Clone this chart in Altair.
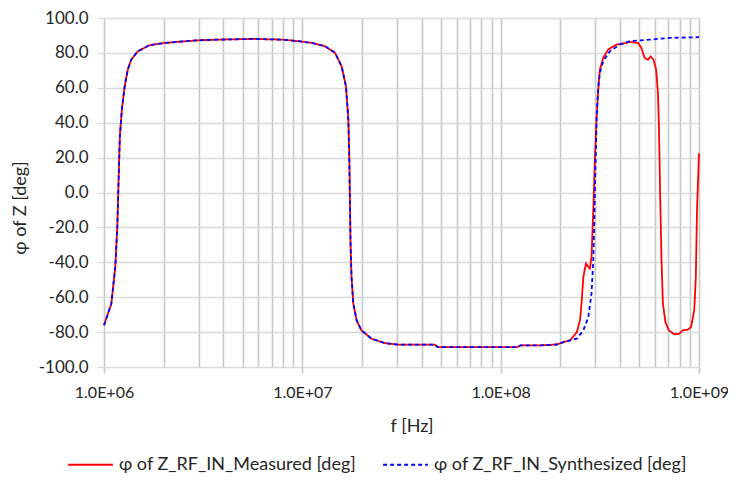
import altair as alt
import pandas as pd

# Measured phase (frequency in Hz, phase in degrees)
meas_f = [1.000e6, 1.089e6, 1.140e6, 1.167e6, 1.186e6, 1.202e6, 1.230e6, 1.271e6, 1.318e6,
          1.371e6, 1.479e6, 1.694e6, 2.014e6, 2.951e6, 3.715e6, 5.62e6, 7.94e6, 9.57e6,
          1.117e7, 1.303e7, 1.462e7, 1.578e7, 1.660e7, 1.706e7, 1.726e7, 1.738e7, 1.750e7,
          1.770e7, 1.807e7, 1.879e7, 1.986e7, 2.234e7, 2.606e7, 3.034e7, 4.634e7, 4.819e7,
          1.211e8, 1.259e8, 1.585e8, 1.919e8, 2.075e8, 2.239e8,
          2.421e8, 2.512e8, 2.564e8, 2.612e8, 2.692e8, 2.767e8, 2.818e8, 2.871e8, 2.931e8,
          2.985e8, 3.048e8, 3.105e8, 3.162e8, 3.289e8, 3.483e8, 3.837e8, 4.305e8, 4.477e8,
          4.932e8, 5.117e8, 5.321e8, 5.534e8, 5.702e8, 5.902e8, 6.081e8, 6.209e8, 6.281e8,
          6.368e8, 6.471e8, 6.577e8, 6.776e8, 7.047e8, 7.516e8, 7.962e8, 8.279e8, 8.770e8,
          9.120e8, 9.462e8, 9.638e8, 9.772e8, 1.000e9]
meas_phi = [-76.1, -63.7, -42.6, -19.6, 9.1, 32.0, 47.4, 60.8, 70.4,
            76.1, 80.9, 84.4, 85.7, 87.2, 87.6, 88.0, 87.6, 86.7,
            85.7, 83.8, 80.0, 72.3, 60.8, 41.7, 18.7, -6.2, -29.2,
            -48.4, -63.7, -73.3, -79.0, -83.8, -86.3, -87.2, -87.2, -88.6,
            -88.6, -87.6, -87.6, -87.1, -85.7, -84.8,
            -80.0, -73.3, -61.8, -48.4, -40.7, -42.6, -43.6, -36.9, -10.0,
            18.7, 43.6, 58.9, 70.4, 77.1, 81.9, 84.8, 85.7, 86.3,
            85.7, 82.9, 77.1, 76.1, 78.0, 76.1, 70.4, 57.0, 37.8,
            -0.5, -38.8, -63.7, -74.3, -79.0, -81.3, -80.9, -79.0, -78.6,
            -77.1, -67.5, -48.4, -10.0, 22.5]

# Synthesized phase
syn_f = [1.000e6, 1.089e6, 1.140e6, 1.167e6, 1.186e6, 1.202e6, 1.230e6, 1.271e6, 1.318e6,
         1.371e6, 1.479e6, 1.694e6, 2.014e6, 2.951e6, 3.715e6, 5.62e6, 7.94e6, 9.57e6,
         1.117e7, 1.303e7, 1.462e7, 1.578e7, 1.660e7, 1.706e7, 1.726e7, 1.738e7, 1.750e7,
         1.770e7, 1.807e7, 1.879e7, 1.986e7, 2.234e7, 2.606e7, 3.034e7, 4.634e7, 4.819e7,
         1.211e8, 1.259e8, 1.585e8, 1.919e8, 2.075e8, 2.239e8,
         2.421e8, 2.612e8, 2.767e8, 2.871e8, 2.931e8, 2.985e8, 3.048e8, 3.105e8, 3.162e8,
         3.289e8, 3.548e8, 3.981e8, 4.477e8, 5.636e8, 7.096e8, 1.000e9]
syn_phi = [-76.1, -63.7, -42.6, -19.6, 9.1, 32.0, 47.4, 60.8, 70.4,
           76.1, 80.9, 84.4, 85.7, 87.2, 87.6, 88.0, 87.6, 86.7,
           85.7, 83.8, 80.0, 72.3, 60.8, 41.7, 18.7, -6.2, -29.2,
           -48.4, -63.7, -73.3, -79.0, -83.8, -86.3, -87.2, -87.2, -88.6,
           -88.6, -87.6, -87.6, -87.1, -85.7, -84.8,
           -83.8, -79.0, -71.4, -57.9, -38.8, -0.5, 43.6, 60.8, 68.5,
           75.2, 80.9, 84.8, 86.7, 87.6, 88.6, 89.0]

series_names = ["φ of Z_RF_IN_Measured [deg]", "φ of Z_RF_IN_Synthesized [deg]"]
series_colors = ["#ff0000", "#0000ff"]

y_ticks = [-100, -80, -60, -40, -20, 0, 20, 40, 60, 80, 100]
x_ticks = [m * 10 ** e for e in (6, 7, 8) for m in range(1, 10)] + [1000000000]

df = pd.concat([
    pd.DataFrame({"f": meas_f, "phi": meas_phi, "series": series_names[0], "idx": range(len(meas_f))}),
    pd.DataFrame({"f": syn_f, "phi": syn_phi, "series": series_names[1], "idx": range(len(syn_f))}),
])

font = "Lato"
txt = "#262626"
W, H = 595, 349
major_test = "indexof([1000000,10000000,100000000,1000000000], datum.value) >= 0"
x_label_expr = ("datum.value == 1000000 ? '1.0E+06' : datum.value == 10000000 ? '1.0E+07' : "
                "datum.value == 100000000 ? '1.0E+08' : datum.value == 1000000000 ? '1.0E+09' : ''")
y_label_expr = "(datum.value < 0 ? '-' : '') + format(abs(datum.value), '.1f')"

legend = alt.Legend(title=None, orient="none", legendX=-37, legendY=423, direction="horizontal",
                    labelFontSize=18, labelFont=font, labelColor=txt, labelOffset=5,
                    symbolType="stroke", symbolStrokeWidth=1.8, symbolSize=2000,
                    columnPadding=22, labelLimit=400)

chart = alt.Chart(df).mark_line(strokeWidth=1.8).encode(
    x=alt.X("f:Q", scale=alt.Scale(type="log", domain=[1e6, 1e9], nice=False),
            axis=alt.Axis(title="f [Hz]", values=x_ticks, labelExpr=x_label_expr,
                          labelOverlap=False, labelFlush=False, labelFontSize=16, titleFontSize=18,
                          labelFont=font, titleFont=font, labelColor=txt, titleColor=txt,
                          titleFontWeight="normal", labelPadding=11,
                          titleX=W / 2 + 10, titleY=59, titleBaseline="middle", titleAlign="center",
                          gridColor="#c8c8c8", gridWidth=1.6, domain=False,
                          tickColor="#c8c8c8", tickWidth=1.6, tickSize=6,
                          tickOpacity={"condition": {"test": major_test, "value": 1}, "value": 0})),
    y=alt.Y("phi:Q", scale=alt.Scale(domain=[-100, 100], nice=False),
            axis=alt.Axis(title="φ of Z [deg]", values=y_ticks, labelExpr=y_label_expr,
                          labelFontSize=17, titleFontSize=18, labelFont=font, titleFont=font,
                          labelColor=txt, titleColor=txt, titleFontWeight="normal",
                          titleX=-84, titleY=H / 2 + 15, titleBaseline="middle", titleAlign="center",
                          titleAngle=270, labelPadding=9,
                          gridColor="#d9d9d9", gridWidth=1.3, domain=False,
                          tickColor="#d9d9d9", tickWidth=1.3, tickSize=7)),
    color=alt.Color("series:N", scale=alt.Scale(domain=series_names, range=series_colors),
                    legend=legend),
    strokeDash=alt.StrokeDash("series:N", scale=alt.Scale(domain=series_names, range=[[1, 0], [4, 3]]),
                              legend=legend),
    order=alt.Order("idx:Q"),
).properties(width=W, height=H, autosize=alt.AutoSizeParams(type="none"),
             padding={"left": 96, "top": 10, "right": 720 - 96 - W, "bottom": 110}
             ).configure_view(stroke=None)

chart.save("out.html", embed_options={"renderer": "svg", "actions": False})
